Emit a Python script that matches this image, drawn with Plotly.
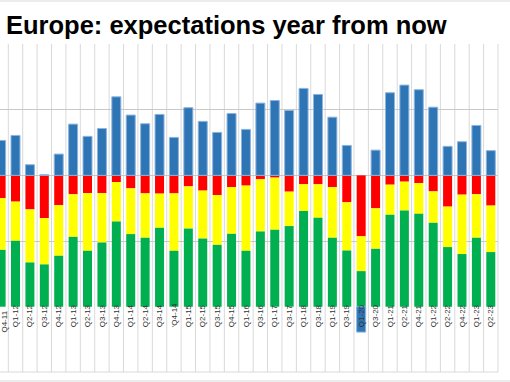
import plotly.graph_objects as go

quarters = ["Q4-11", "Q1-12", "Q2-12", "Q3-12", "Q4-12", "Q1-13", "Q2-13", "Q3-13", "Q4-13",
            "Q1-14", "Q2-14", "Q3-14", "'Q4-14", "Q1-15", "Q2-15", "Q3-15", "Q4-15", "Q1-16",
            "Q3-16", "Q1-17", "Q3-17", "Q1-18", "Q3-18", "Q1-19", "Q3-19", "Q1-20", "Q3-20",
            "Q1-21", "Q2-21", "Q4-21", "Q1-22", "Q2-22", "Q4-22", "Q1-23", "Q2-23"]

# shares (%) plotted below the zero line
worse = [17.3, 20.0, 25.9, 32.5, 22.6, 14.4, 13.5, 13.5, 5.1, 9.9, 13.7, 13.9, 13.7, 8.4, 11.6,
         15.0, 8.9, 7.8, 3.0, 1.7, 12.4, 6.8, 6.8, 8.9, 20.5, 46.4, 25.1, 7.1, 4.8, 5.9, 12.2,
         23.8, 14.7, 14.4, 23.0]
same = [39.4, 29.8, 40.4, 35.3, 38.6, 32.4, 43.9, 37.6, 30.0, 34.8, 33.8, 26.0, 43.7, 32.1, 36.5,
        37.9, 35.6, 49.6, 39.7, 39.7, 26.2, 20.4, 25.5, 38.6, 36.7, 26.5, 30.8, 22.9, 22.0, 23.4,
        23.9, 30.8, 45.2, 33.1, 35.4]
better = [43.3, 50.2, 33.7, 32.2, 38.8, 53.2, 42.6, 48.9, 64.9, 55.3, 52.5, 60.1, 42.6, 59.5, 51.9,
          47.1, 55.5, 42.6, 57.3, 58.6, 61.4, 72.8, 67.7, 52.5, 42.8, 27.1, 44.1, 70.0, 73.2, 70.7,
          63.9, 45.4, 40.1, 52.5, 41.6]
# net balance
net = [26.6, 30.4, 8.1, 0.5, 16.2, 39.0, 29.7, 35.7, 59.8, 45.9, 39.3, 46.4, 28.9, 51.5, 41.1,
       32.7, 47.1, 35.0, 55.0, 57.0, 49.4, 66.2, 61.6, 44.3, 22.8, -19.3, 19.2, 62.9, 68.7, 65.2,
       51.9, 22.1, 25.6, 38.0, 18.8]

pos = list(range(len(quarters)))

fig = go.Figure()
fig.add_trace(go.Bar(x=pos, y=[-v for v in worse], marker=dict(color="#FF0000", line=dict(width=0))))
fig.add_trace(go.Bar(x=pos, y=[-v for v in same], marker=dict(color="#FFFF00", line=dict(width=0))))
fig.add_trace(go.Bar(x=pos, y=[-v for v in better], marker=dict(color="#00B050", line=dict(width=0))))
fig.add_trace(go.Bar(x=pos, y=net,
                     marker=dict(color="#2E75B6", line=dict(width=1, color="#8DB4DE"))))

# plot area: 44..333 px (y from -120 to 100)
H = 289.0
def py(px):
    return (333.0 - px) / H

tick_font = dict(family="Liberation Sans, Arial, sans-serif", size=8, color="#333333")

sep_color = "#D9D9D9"
shapes = []
for i in pos[:-1]:
    shapes.append(dict(type="line", xref="x", yref="paper", x0=i + 0.5, x1=i + 0.5,
                       y0=py(372), y1=1, line=dict(color=sep_color, width=1), layer="below"))
shapes.append(dict(type="line", xref="paper", yref="paper", x0=1, x1=1, y0=py(372), y1=1,
                   line=dict(color=sep_color, width=1)))
shapes.append(dict(type="line", xref="paper", yref="paper", x0=0, x1=1, y0=py(372), y1=py(372),
                   line=dict(color=sep_color, width=1)))
shapes.append(dict(type="line", xref="paper", yref="paper", x0=0, x1=1.03, y0=py(1), y1=py(1),
                   line=dict(color=sep_color, width=1)))
shapes.append(dict(type="line", xref="paper", yref="paper", x0=0, x1=1.03, y0=py(381), y1=py(381),
                   line=dict(color=sep_color, width=1)))

annotations = [
    dict(text="<b>Europe: expectations year from now</b>", xref="paper", yref="paper",
         x=4 / 498, xanchor="left", y=py(25), yanchor="middle", showarrow=False,
         font=dict(family="Liberation Sans, Arial, sans-serif", size=25.5, color="black")),
    # first (partially cut) category label, which plotly hides at the plot edge
    dict(text=quarters[0], xref="x", yref="paper", x=pos[0] + 0.17, y=py(322), yanchor="middle",
         xanchor="center", textangle=-90, showarrow=False, font=tick_font),
]

fig.update_layout(
    width=510, height=382, autosize=False,
    margin=dict(l=0, r=12, t=44, b=49, pad=0),
    paper_bgcolor="white", plot_bgcolor="white",
    barmode="relative", bargap=0.375, showlegend=False,
    annotations=annotations,
    xaxis=dict(range=[-0.077, 34.5], tickvals=pos, ticktext=quarters, tickangle=-90,
               ticklabelposition="inside", automargin=False, tickfont=tick_font,
               showgrid=False, zeroline=False, showline=False, ticks=""),
    yaxis=dict(range=[-120, 100], tickvals=[-100, -50, 0, 50, 100], showticklabels=False,
               automargin=False,
               showgrid=True, gridcolor="#C8C8C8", gridwidth=1, zeroline=False, showline=False),
    shapes=shapes,
)

fig.write_html("out.html", config={"displayModeBar": False},
               post_script="document.body.style.margin='0';document.body.style.overflow='hidden';")
